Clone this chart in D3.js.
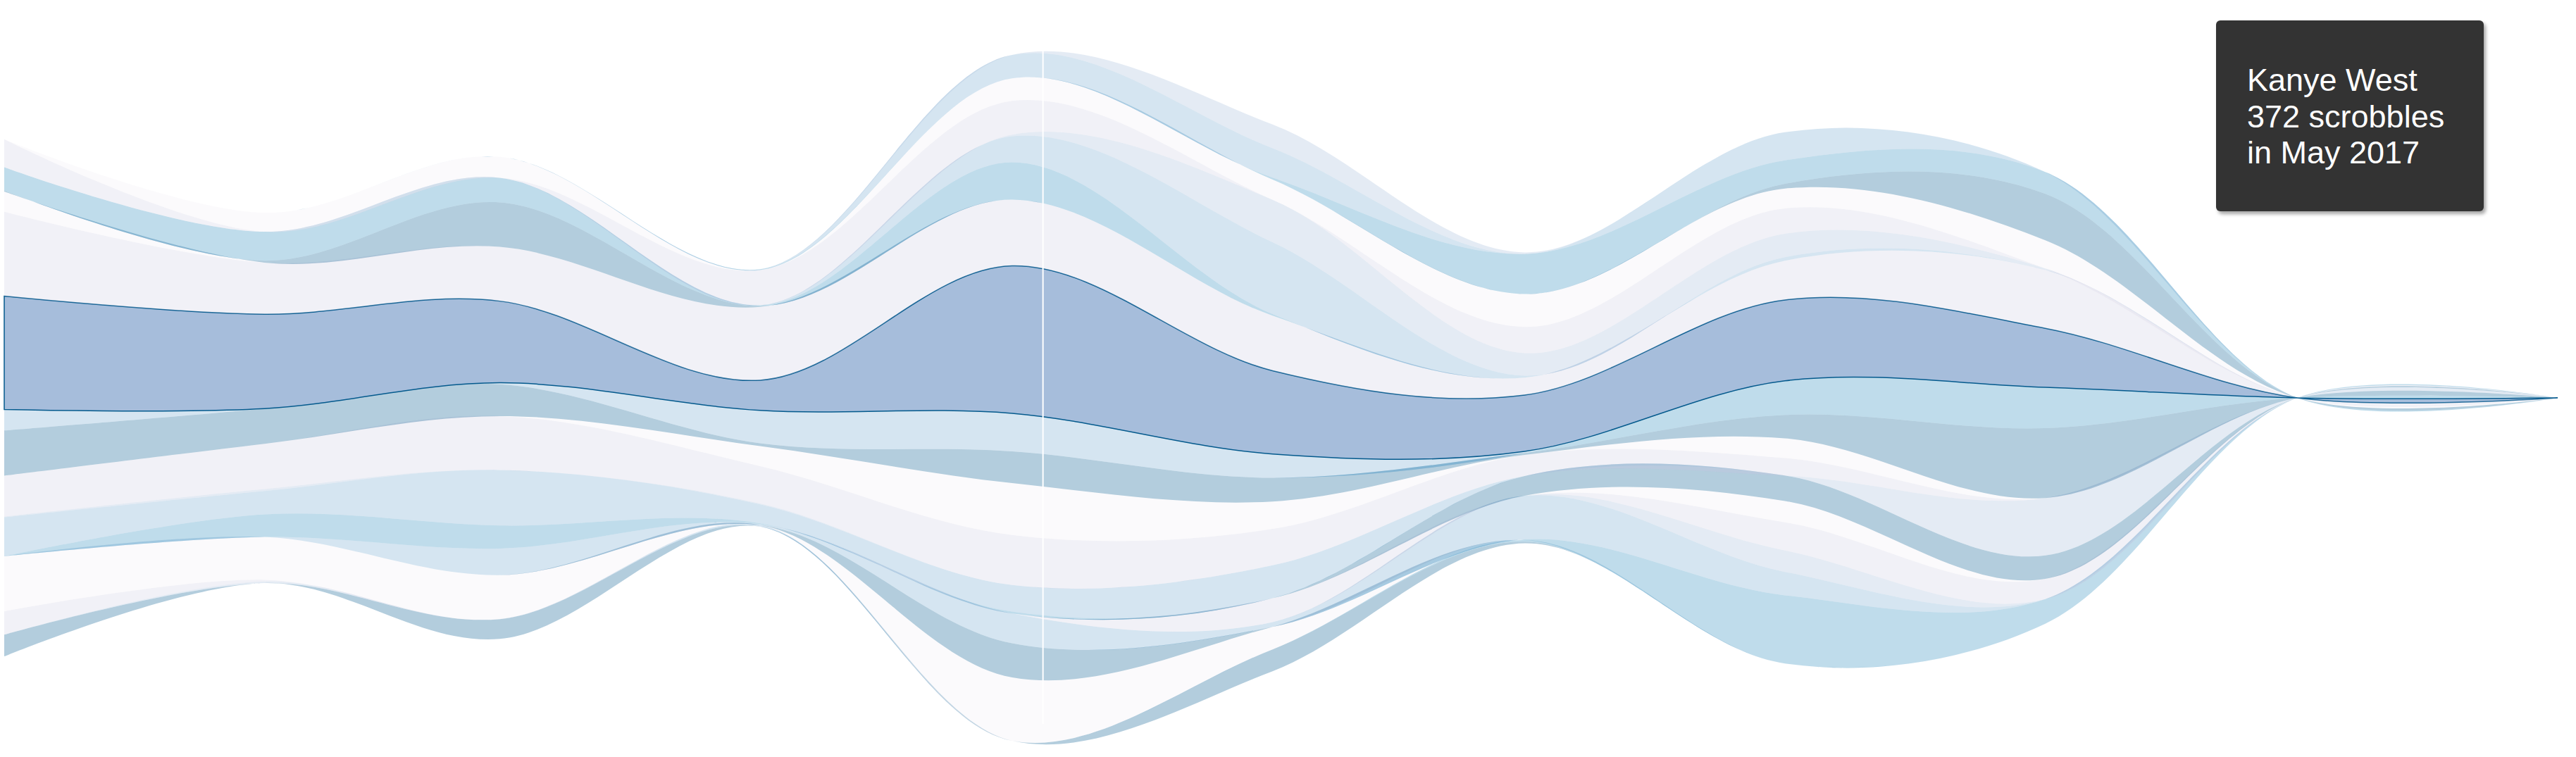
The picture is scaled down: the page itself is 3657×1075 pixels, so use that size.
<!DOCTYPE html>
<html>
<head>
<meta charset="utf-8">
<script src="https://cdn.jsdelivr.net/npm/d3@7"></script>
<style>
html, body { margin: 0; padding: 0; background: #fff; }
body { width: 3657px; height: 1075px; overflow: hidden; position: relative; font-family: "Liberation Sans", Arial, sans-serif; }
#tip { position: absolute; left: 3146px; top: 29px; width: 380px; height: 271px; box-sizing: border-box;
  background: #333333; border-radius: 6px; box-shadow: 3px 4px 5px rgba(0,0,0,0.35);
  color: #fff; font-size: 45px; line-height: 51.5px; padding: 59px 0 0 44px; white-space: nowrap; }
</style>
</head>
<body>
<svg id="chart" width="3657" height="1075"></svg>
<div id="tip"></div>
<script>
// ---- data ----
const months = ["2017-01","2017-02","2017-03","2017-04","2017-05","2017-06","2017-07","2017-08","2017-09","2017-10","2017-11"];

const artists = [
  "Artist 01","Artist 02","Artist 03","Artist 04","Artist 05","Artist 06","Artist 07","Artist 08",
  "Artist 09","Artist 10","Artist 11","Artist 12","Artist 13","Artist 14","Artist 15","Artist 16",
  "Artist 17","Artist 18","Artist 19","Artist 20","Artist 21","Kanye West","Artist 23","Artist 24",
  "Artist 25","Artist 26","Artist 27","Artist 28","Artist 29","Artist 30","Artist 31","Artist 32",
  "Artist 33","Artist 34"
];

// scrobbles per month (Jan..Nov 2017), one row per artist, bottom layer first
const scrobbles = [
  [55,0,50,0,0,55,4,0,0,0,0],
  [0,0,0,0,0,0,4,0,0,0,0],
  [0,0,0,4,0,0,0,0,0,0,0],
  [0,4,0,0,0,0,0,0,0,0,0],
  [59,4,0,0,0,0,0,0,0,0,0],
  [139,108,111,0,160,57,0,0,0,0,0],
  [0,0,0,0,86,0,0,0,0,0,0],
  [0,0,0,0,0,0,2,172,62,0,0],
  [0,0,67,2,75,12,110,59,0,0,0],
  [0,0,0,0,0,0,0,54,0,0,0],
  [0,0,0,0,0,60,0,71,51,0,0],
  [0,0,0,0,0,0,0,54,0,0,0],
  [0,0,0,0,0,0,50,64,59,0,0],
  [0,57,58,2,5,0,0,0,0,0,0],
  [98,59,140,48,67,83,0,0,0,0,0],
  [2,5,0,2,0,0,0,0,145,0,0],
  [103,114,136,94,126,92,53,44,0,0,0],
  [0,0,0,51,131,69,0,50,0,0,0],
  [114,89,80,7,80,60,5,59,176,0,0],
  [0,0,0,0,0,0,0,86,103,0,0],
  [53,0,4,83,96,60,4,0,0,0,0],
  [286,238,206,76,372,210,142,204,149,0,0],
  [213,130,137,185,167,139,44,99,147,0,0],
  [51,0,0,0,0,0,0,0,0,0,0],
  [2,5,112,2,0,0,0,0,0,0,0],
  [59,73,62,2,94,4,0,0,0,0,0],
  [0,0,0,0,66,181,5,9,0,0,0],
  [0,0,0,0,4,107,57,59,4,0,0],
  [71,0,0,89,85,0,66,64,0,0,0],
  [0,48,53,0,57,51,83,50,71,0,0],
  [0,0,0,0,0,0,0,12,117,0,0],
  [0,0,0,2,0,5,101,59,55,0,0],
  [0,0,0,0,59,74,0,71,0,0,0],
  [0,0,0,0,0,60,4,0,0,0,0]
];

const hovered = "Kanye West";
const hoverDate = new Date(2017, 4, 4, 16);

// ---- style ----
const palette = ["#045A8D", "#2B8CBE", "#74A9CF", "#A6BDDB", "#D0D1E6", "#F1EEF6"];

// ---- build ----
const parse = d3.timeParse("%Y-%m");
const table = months.map((m, j) => {
  const row = { date: parse(m) };
  artists.forEach((a, i) => { row[a] = scrobbles[i][j]; });
  return row;
});

const stack = d3.stack()
  .keys(artists)
  .order(d3.stackOrderNone)
  .offset(d3.stackOffsetSilhouette);
const layers = stack(table);

const x = d3.scaleTime()
  .domain(d3.extent(table, d => d.date))
  .range([6, 3631]);

const y = d3.scaleLinear()
  .domain([d3.min(layers, l => d3.min(l, d => d[0])), d3.max(layers, l => d3.max(l, d => d[1]))])
  .range([1052, 78]);

const z = d3.scaleOrdinal().domain(d3.range(palette.length)).range(palette);

const area = d3.area()
  .x(d => x(d.data.date))
  .y0(d => y(d[0]))
  .y1(d => y(d[1]))
  .curve(d3.curveCatmullRom.alpha(0.5));

const svg = d3.select("#chart");

svg.selectAll("path.layer")
  .data(layers)
  .join("path")
  .attr("class", "layer")
  .attr("d", area)
  .attr("fill", (d, i) => z(i % palette.length))
  .attr("opacity", d => d.key === hovered ? 1 : 0.3)
  .attr("stroke", d => d.key === hovered ? palette[0] : "none")
  .attr("stroke-width", d => d.key === hovered ? 1.5 : 0);

// hover vertical line
svg.append("line")
  .attr("x1", x(hoverDate)).attr("x2", x(hoverDate))
  .attr("y1", 68).attr("y2", 1028)
  .attr("stroke", "#fff")
  .attr("stroke-width", 2);

// tooltip
const hi = artists.indexOf(hovered);
const monthIdx = d3.bisectRight(table.map(d => d.date), hoverDate) - 1;
const fmt = d3.timeFormat("%B %Y");
const tip = d3.select("#tip");
[hovered, scrobbles[hi][monthIdx] + " scrobbles", "in " + fmt(table[monthIdx].date)]
  .forEach(t => tip.append("div").text(t));
</script>
</body>
</html>
